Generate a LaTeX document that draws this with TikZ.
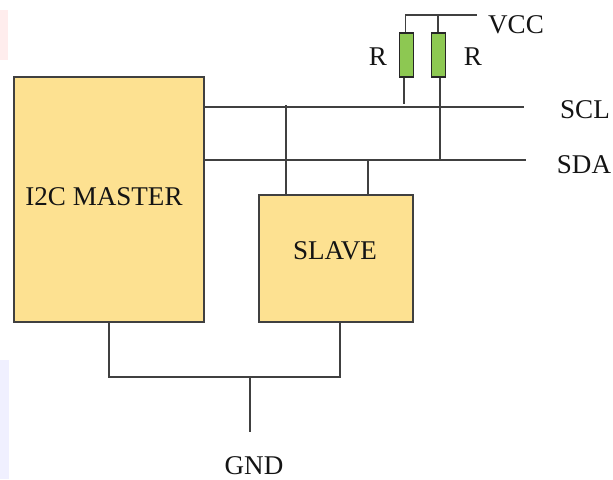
\documentclass[tikz,border=0pt]{standalone}
\usepackage{fontspec}
\setmainfont{Liberation Serif}
\definecolor{boxyellow}{rgb}{0.992,0.882,0.569}
\definecolor{resgreen}{rgb}{0.553,0.784,0.322}
\definecolor{wire}{rgb}{0.25,0.25,0.25}
\tikzset{
  chipbox/.style={draw=wire,fill=boxyellow,line width=1pt,inner sep=0pt},
  resbox/.style={draw=black!85,fill=resgreen,line width=1pt,inner sep=0pt,minimum width=10.5pt,minimum height=33pt},
  wireline/.style={draw=wire,line width=1pt},
  txt/.style={inner sep=0pt,font=\fontsize{20.3}{22}\selectfont,text=black!92}
}

\begin{document}
\begin{tikzpicture}[x=0.75pt,y=0.75pt,yscale=-1,xscale=1]
\useasboundingbox (0,0) rectangle (613,479);

%Shape: Rectangle [background scraps]
\fill [red!7!white] (0,10) rectangle (8,60);
\fill [blue!6!white] (0,360) rectangle (9,479);

%Shape: Rectangle [master]
\draw (109,199.5) node (master) [chipbox,minimum width=142.5pt,minimum height=183.75pt] {};
%Shape: Rectangle [slave]
\draw (336,258.5) node (slave) [chipbox,minimum width=115.5pt,minimum height=95.25pt] {};
%Shape: Rectangle [resistors]
\draw (406.75,55) node (resleft) [resbox] {};
\draw (438.5,55) node (resright) [resbox] {};

%Free ends
\coordinate (sclend) at (524,107);
\coordinate (sdaend) at (526,160);
\coordinate (vccend) at (477,15);
\coordinate (vccstart) at (405.5,15);
\coordinate (vcctap) at (438,15);
\coordinate (pullscl) at (404,104);
\coordinate (pullsda) at (440,160);
\coordinate (slavescl) at (286,105);
\coordinate (slavesda) at (368,160);
\coordinate (gndleft) at (109,377);
\coordinate (gndright) at (340,377);
\coordinate (gndtap) at (250,377);
\coordinate (gndend) at (250,432);

%Straight Lines [buses]
\draw [wireline] (master.east |- sclend) -- (sclend);
\draw [wireline] (master.east |- sdaend) -- (sdaend);
%Straight Lines [vcc]
\draw [wireline] (vccstart |- resleft.north) -- (vccstart) -- (vccend);
\draw [wireline] (vcctap) -- (vcctap |- resright.north);
%Straight Lines [pull ups]
\draw [wireline] (pullscl |- resleft.south) -- (pullscl);
\draw [wireline] (pullsda |- resright.south) -- (pullsda);
%Straight Lines [slave taps]
\draw [wireline] (slavescl) -- (slavescl |- slave.north);
\draw [wireline] (slavesda) -- (slavesda |- slave.north);
%Straight Lines [ground]
\draw [wireline] (gndleft |- master.south) -- (gndleft) -- (gndright) -- (gndright |- slave.south);
\draw [wireline] (gndtap) -- (gndend);

% Text Node
\draw (104,197) node (mastertxt) [txt] {I2C MASTER};
% Text Node
\draw (335,251) node (slavetxt) [txt] {SLAVE};
% Text Node
\draw (378,57) node (rleft) [txt] {R};
% Text Node
\draw (473,57) node (rright) [txt] {R};
% Text Node
\draw (516,25) node (vcc) [txt] {VCC};
% Text Node
\draw (585,110) node (scl) [txt] {SCL};
% Text Node
\draw (584,165) node (sda) [txt] {SDA};
% Text Node
\draw (254,466) node (gnd) [txt] {GND};

\end{tikzpicture}
\end{document}
